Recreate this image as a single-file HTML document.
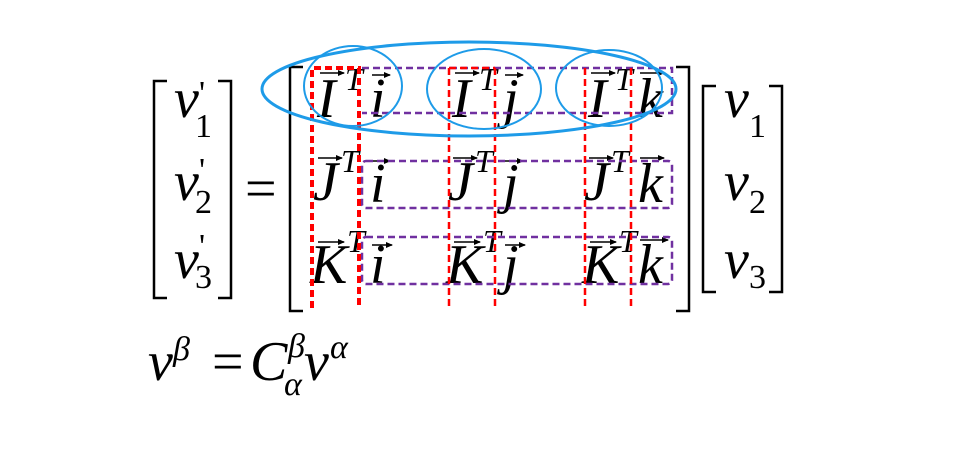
<!DOCTYPE html>
<html><head><meta charset="utf-8"><style>
html,body{margin:0;padding:0;background:#fff;}
svg{display:block}
svg text{font-family:"Liberation Serif","DejaVu Serif",serif;}
.it{font-style:italic}
</style></head><body>
<svg width="964" height="450" viewBox="0 0 964 450" xmlns="http://www.w3.org/2000/svg">
<defs><marker id="ah" markerWidth="7" markerHeight="6" refX="6" refY="3" orient="auto" markerUnits="userSpaceOnUse"><path d="M0,0 L7,3 L0,6 z" fill="#000"/></marker></defs>
<g fill="none" stroke="#000" stroke-width="2.5">
<path d="M167,81 H154 V298 H167"/>
<path d="M218,81 H231 V298 H218"/>
<path d="M303,67 H290 V311 H303"/>
<path d="M676,67 H689 V311 H676"/>
<path d="M716,86 H703 V292 H716"/>
<path d="M769,86 H782 V292 H769"/>
</g>
<g font-size="56" class="it">
<text class="it" x="174" y="117">v</text><text class="it" x="174" y="200">v</text><text class="it" x="174" y="278">v</text>
<text class="it" x="724" y="117">v</text><text class="it" x="724" y="200">v</text><text class="it" x="724" y="278">v</text>
</g>
<g font-size="34">
<text x="195" y="137">1</text><text x="195" y="213">2</text><text x="195" y="288">3</text>
<text x="749" y="137">1</text><text x="749" y="213">2</text><text x="749" y="288">3</text>
<text x="199" y="104">'</text><text x="199" y="181">'</text><text x="199" y="257">'</text>
</g>
<text x="245" y="207" font-size="56">=</text>
<g font-size="56">
<text class="it" x="317" y="117">I</text><text class="it" x="370" y="117">i</text>
<text class="it" x="452" y="117">I</text><text class="it" x="503" y="117">j</text>
<text class="it" x="588" y="117">I</text><text class="it" x="638" y="117">k</text>
<text class="it" x="313" y="200">J</text><text class="it" x="370" y="202">i</text>
<text class="it" x="448" y="200">J</text><text class="it" x="503" y="202">j</text>
<text class="it" x="584" y="200">J</text><text class="it" x="638" y="202">k</text>
<text class="it" x="310" y="283">K</text><text class="it" x="370" y="283">i</text>
<text class="it" x="446" y="283">K</text><text class="it" x="503" y="283">j</text>
<text class="it" x="582" y="283">K</text><text class="it" x="638" y="283">k</text>
</g>
<g font-size="32">
<text class="it" x="345" y="90">T</text><text class="it" x="479" y="90">T</text><text class="it" x="615" y="90">T</text>
<text class="it" x="341" y="172">T</text><text class="it" x="475" y="172">T</text><text class="it" x="611" y="172">T</text>
<text class="it" x="347" y="252">T</text><text class="it" x="483" y="252">T</text><text class="it" x="619" y="252">T</text>
</g>
<g stroke="#000" stroke-width="1.6" marker-end="url(#ah)">
<line x1="320" y1="73" x2="344" y2="73"/><line x1="372" y1="75" x2="390" y2="75"/>
<line x1="455" y1="73" x2="479" y2="73"/><line x1="505" y1="75" x2="523" y2="75"/>
<line x1="591" y1="73" x2="615" y2="73"/><line x1="640" y1="73" x2="664" y2="73"/>
<line x1="318" y1="158" x2="342" y2="158"/><line x1="372" y1="161" x2="390" y2="161"/>
<line x1="453" y1="158" x2="477" y2="158"/><line x1="505" y1="161" x2="523" y2="161"/>
<line x1="589" y1="158" x2="613" y2="158"/><line x1="640" y1="158" x2="664" y2="158"/>
<line x1="318" y1="242" x2="344" y2="242"/><line x1="372" y1="245" x2="392" y2="245"/>
<line x1="454" y1="242" x2="480" y2="242"/><line x1="505" y1="245" x2="525" y2="245"/>
<line x1="590" y1="242" x2="616" y2="242"/><line x1="640" y1="240" x2="668" y2="240"/>
</g>
<g fill="none" stroke="#7030a0" stroke-width="2.5" stroke-dasharray="7,4">
<path d="M362,68 H672 V113 H362"/>
<rect x="362" y="161" width="310" height="47" rx="4"/>
<rect x="362" y="237" width="310" height="47" rx="4"/>
</g>
<g fill="none" stroke="#ff0000" stroke-dasharray="7,4">
<path d="M312,308 V68 H359 V308" stroke-width="4"/>
<line x1="449" y1="68" x2="449" y2="308" stroke-width="2.5"/>
<line x1="495" y1="68" x2="495" y2="308" stroke-width="2.5"/>
<line x1="449" y1="68" x2="495" y2="68" stroke-width="2.5"/>
<line x1="585" y1="68" x2="585" y2="308" stroke-width="2.5"/>
<line x1="631" y1="68" x2="631" y2="308" stroke-width="2.5"/>
</g>
<g fill="none" stroke="#1e9be8" stroke-width="3">
<ellipse cx="469" cy="89" rx="207" ry="47"/>
<ellipse cx="353" cy="86" rx="49" ry="40" stroke-width="2"/>
<ellipse cx="484" cy="89" rx="57" ry="40" stroke-width="2"/>
<ellipse cx="609" cy="88" rx="53" ry="38" stroke-width="2"/>
</g>
<text class="it" x="148" y="380" font-size="56">v</text>
<text class="it" x="173" y="360" font-size="34">β</text>
<text x="212" y="380" font-size="56">=</text>
<text class="it" x="250" y="380" font-size="56">C</text>
<text class="it" x="288" y="357" font-size="34">β</text>
<text class="it" x="284" y="395" font-size="34">α</text>
<text class="it" x="304" y="380" font-size="56">v</text>
<text class="it" x="330" y="358" font-size="34">α</text>
</svg>
</body></html>
